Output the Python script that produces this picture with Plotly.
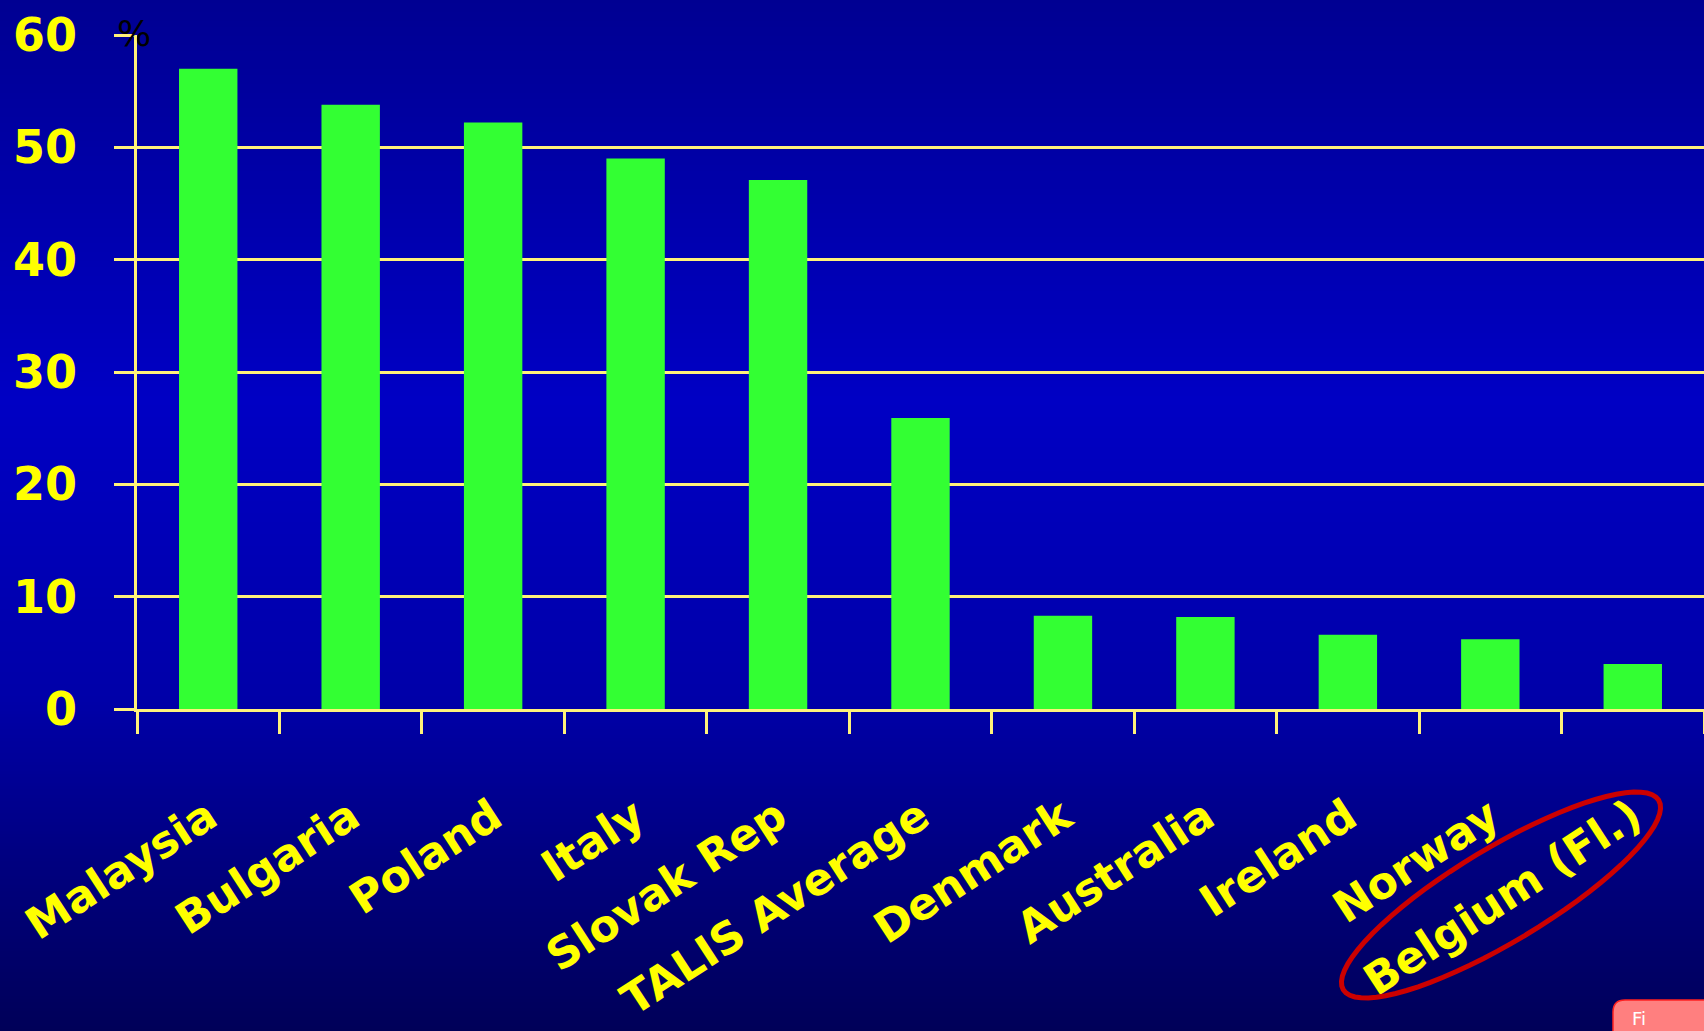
import math
import plotly.graph_objects as go

# ---- data ----
countries = ["Malaysia", "Bulgaria", "Poland", "Italy", "Slovak Rep", "TALIS Average",
             "Denmark", "Australia", "Ireland", "Norway", "Belgium (Fl.)"]
values = [57.0, 53.8, 52.2, 49.0, 47.1, 25.9, 8.3, 8.2, 6.6, 6.2, 4.0]
y_ticks = [0, 10, 20, 30, 40, 50, 60]

# ---- geometry (pixels) ----
W, H = 1704, 1031
L, R, T, B = 137, 0, 35, 322
PW, PH = W - L - R, H - T - B

def px_x(px):
    return (px - L) / PW

def px_y(py):
    return (H - B - py) / PH

GRID = "#FFF27A"
YEL = "#FFFF00"
FONT = "DejaVu Sans"

shapes = []
# background vertical gradient built from thin stripes
stops = [(0, 0x92), (400, 0xC4), (700, 0xA8), (860, 0x80), (1031, 0x58)]

def blue_at(y):
    for (y0, c0), (y1, c1) in zip(stops[:-1], stops[1:]):
        if y0 <= y <= y1:
            t = (y - y0) / (y1 - y0)
            return round(c0 + (c1 - c0) * t)
    return stops[-1][1]

step = 3
for y in range(0, H, step):
    b = blue_at(y + step / 2)
    shapes.append(dict(type="rect", xref="paper", yref="paper", layer="below",
                       x0=px_x(0), x1=px_x(W), y0=px_y(y + step + 0.5), y1=px_y(y),
                       fillcolor=f"rgb(0,0,{b})", line=dict(width=0)))

# red ellipse around Belgium label
cx, cy, a, bb, th = 1501, 895, 184, 47, math.radians(31)
pts = []
for i in range(73):
    t = 2 * math.pi * i / 72
    ex = a * math.cos(t)
    ey = bb * math.sin(t)
    X = cx + ex * math.cos(th) - ey * math.sin(th)
    Y = cy - (ex * math.sin(th) + ey * math.cos(th))
    pts.append((px_x(X), px_y(Y)))
path = "M " + " L ".join(f"{x:.5f},{y:.5f}" for x, y in pts) + " Z"
shapes.append(dict(type="path", xref="paper", yref="paper", layer="above",
                   path=path, line=dict(color="#CC0000", width=5)))

# pink button at bottom-right corner
bx0, by0, rr = 1613, 1000, 12
bpath = (f"M {px_x(bx0)},{px_y(1040)} L {px_x(bx0)},{px_y(by0 + rr)} "
         f"Q {px_x(bx0)},{px_y(by0)} {px_x(bx0 + rr)},{px_y(by0)} "
         f"L {px_x(1720)},{px_y(by0)} L {px_x(1720)},{px_y(1040)} Z")
shapes.append(dict(type="path", xref="paper", yref="paper", layer="above",
                   path=bpath, fillcolor="#FF7F7F", line=dict(color="#FF2020", width=1.5)))

fig = go.Figure(go.Bar(
    x=countries, y=values, marker=dict(color="#33FF33", line=dict(width=0)),
    width=0.41, showlegend=False, hoverinfo="x+y"))

fig.update_layout(
    width=W, height=H,
    margin=dict(l=L, r=R, t=T, b=B, pad=0),
    paper_bgcolor="rgba(0,0,0,0)", plot_bgcolor="rgba(0,0,0,0)",
    shapes=shapes,
    showlegend=False,
    annotations=[
        dict(text="%", xref="paper", yref="paper", x=px_x(134), y=px_y(34),
             showarrow=False, font=dict(family=FONT, size=36, color="#000000"),
             xanchor="center", yanchor="middle"),
        dict(text="Fi", xref="paper", yref="paper", x=px_x(1630), y=px_y(1006),
             showarrow=False, font=dict(family=FONT, size=18, color="#FFFFFF"),
             xanchor="left", yanchor="top"),
    ],
)

fig.update_xaxes(
    type="category", showgrid=False, zeroline=False,
    showline=True, linecolor=GRID, linewidth=2.5,
    ticks="outside", tickson="boundaries", ticklen=22, tickwidth=2.5, tickcolor=GRID,
    tickangle=-33, ticklabelstandoff=62,
    tickfont=dict(family=FONT, size=44, color=YEL, weight="bold"),
    fixedrange=True,
)
fig.update_yaxes(
    range=[0, 60], tickvals=y_ticks, ticktext=[str(v) for v in y_ticks],
    showgrid=True, gridcolor=GRID, gridwidth=2.5, zeroline=False,
    showline=True, linecolor=GRID, linewidth=2.5,
    ticks="outside", ticklen=20, tickwidth=2.5, tickcolor=GRID,
    ticklabelstandoff=28,
    tickfont=dict(family=FONT, size=46, color=YEL, weight="bold"),
    fixedrange=True,
)

fig.write_html("out.html")
